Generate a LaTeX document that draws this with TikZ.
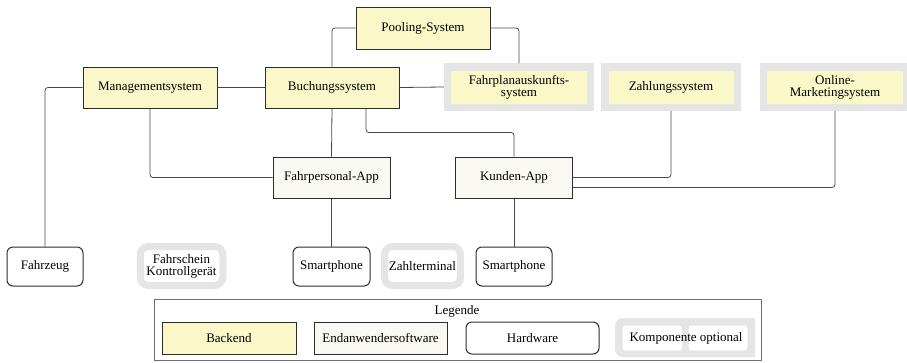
\documentclass[tikz,border=0pt]{standalone}
\usepackage{fontspec}
\setmainfont{Liberation Serif}
\definecolor{backfill}{RGB}{250,247,200}
\definecolor{userfill}{RGB}{250,248,242}
\definecolor{optgray}{RGB}{229,229,229}
\definecolor{edge}{RGB}{45,45,45}
\definecolor{connc}{RGB}{70,70,70}
\definecolor{legc}{RGB}{110,110,110}
\tikzset{
  base/.style={inner sep=0pt, align=center, font=\fontsize{13}{12}\selectfont},
  backend/.style={base, draw=edge, line width=1pt, fill=backfill},
  userapp/.style={base, draw=edge, line width=1pt, fill=userfill},
  hardware/.style={base, draw=edge, line width=1pt, fill=white, rounded corners=6pt},
  optback/.style={base, draw=optgray, line width=7.5pt, fill=backfill},
  opthw/.style={base, draw=optgray, line width=7pt, fill=white, rounded corners=8pt},
  conn/.style={draw=connc, line width=0.8pt, rounded corners=3pt},
}
\begin{document}
\begin{tikzpicture}[x=1pt,y=-1pt]
\useasboundingbox (0,0) rectangle (907,362);
% top row
\node[backend, minimum width=134pt, minimum height=42pt] (pool) at (423,28) {Pooling-System};
\node[backend, minimum width=134pt, minimum height=41pt] (mgmt) at (150,87.5) {Managementsystem};
\node[backend, minimum width=134pt, minimum height=41pt] (buch) at (332,87.5) {Buchungssystem};
\node[optback, minimum width=143pt, minimum height=40.5pt] (fplan) at (519,87) {Fahrplanauskunfts-\\system};
\node[optback, minimum width=132.5pt, minimum height=40.5pt] (zahl) at (671,87) {Zahlungssystem};
\node[optback, minimum width=143pt, minimum height=40.5pt] (online) at (835,87) {Online-\\Marketingsystem};
% apps
\node[userapp, minimum width=117pt, minimum height=41pt] (fpa) at (331.5,177.5) {Fahrpersonal-App};
\node[userapp, minimum width=117pt, minimum height=41pt] (kunde) at (514,177.5) {Kunden-App};
% hardware
\node[hardware, minimum width=76pt, minimum height=39pt] (fzg) at (45,266.5) {Fahrzeug};
\node[opthw, minimum width=82.5pt, minimum height=39pt] (fsk) at (181.5,266) {Fahrschein\\Kontrollger\"at};
\node[hardware, minimum width=77pt, minimum height=39pt] (sp1) at (331.5,266.5) {Smartphone};
\node[opthw, minimum width=76pt, minimum height=39pt] (zt) at (422.5,266) {Zahlterminal};
\node[hardware, minimum width=76pt, minimum height=39pt] (sp2) at (514,266.5) {Smartphone};
% connectors
\draw[conn] (mgmt.east) -- (buch.west);
\draw[conn] (buch.east) -- (fplan.west);
\draw[conn] (pool.west) -| (buch.north);
\draw[conn] (pool.east) -| (fplan.north);
\draw[conn] (mgmt.west) -| (fzg.north);
\draw[conn] (mgmt.south) |- (fpa.west);
\draw[conn] (buch.south) -- (fpa.north);
\draw[conn] ([xshift=34pt]buch.south) -- ++(0,24) -| (kunde.north);
\draw[conn] (fpa.south) -- (sp1.north);
\draw[conn] (kunde.south) -- (sp2.north);
\draw[conn] (zahl.south) |- (kunde.east);
\draw[conn] (online.south) |- ([yshift=-10pt]kunde.east);
% legend
\node[draw=legc, line width=0.9pt, minimum width=607pt, minimum height=61.5pt, inner sep=0pt] (leg) at (457.5,329.75) {};
\node[base] (legt) at (457,311) {Legende};
\node[backend, minimum width=134pt, minimum height=32pt] (lb) at (229,338) {Backend};
\node[userapp, minimum width=133pt, minimum height=32pt] (lu) at (380.5,338) {Endanwendersoftware};
\node[hardware, minimum width=133pt, minimum height=32pt] (lh) at (532.5,338) {Hardware};
\fill[optgray] (755,318) [rounded corners=8pt] -- (615,318) -- (615,357) [sharp corners] -- (755,357) -- cycle;
\fill[white, rounded corners=3pt] (622.5,325.5) rectangle (682,350.5);
\fill[white, rounded corners=3pt] (688.5,325.5) rectangle (747.5,350.5);
\node[base] (lo) at (686,338) {Komponente optional};
\end{tikzpicture}
\end{document}
